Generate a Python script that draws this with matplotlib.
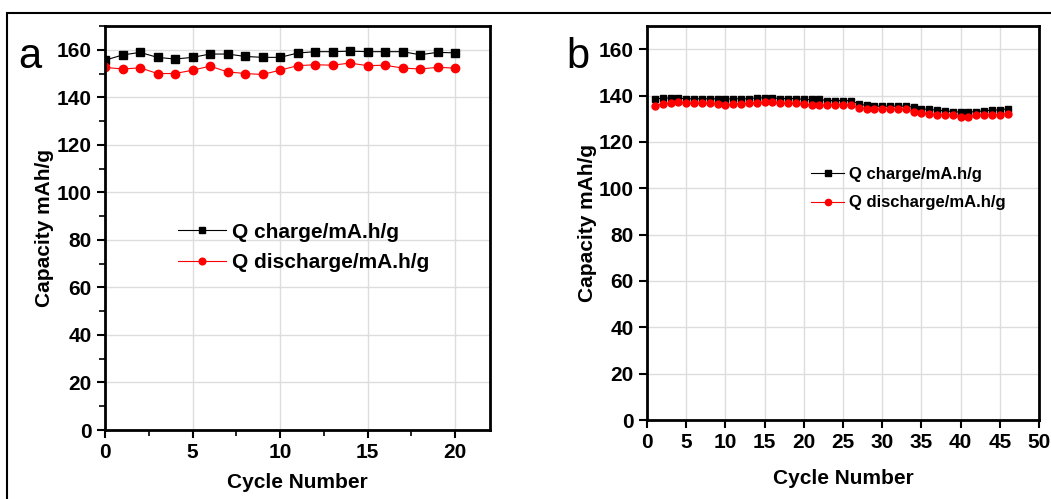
import numpy as np
import matplotlib.pyplot as plt
from matplotlib.patches import Rectangle
from matplotlib.ticker import MultipleLocator

plt.rcParams['font.family'] = ['Liberation Sans', 'DejaVu Sans']

# panel a data
cyc_a = list(range(0, 21))
charge_a = [155.6, 157.8, 158.9, 156.8, 156.1, 156.8, 158.2, 158.2, 157.2, 156.8, 156.8,
            158.6, 159.2, 159.2, 159.4, 159.2, 159.2, 159.2, 157.9, 158.9, 158.7]
disch_a = [152.6, 151.9, 152.4, 150.0, 150.0, 151.4, 153.1, 150.7, 150.0, 149.6, 151.4,
           153.3, 153.7, 153.5, 154.4, 153.3, 153.5, 152.3, 151.9, 152.6, 152.3]

# panel b data
cyc_b = list(range(1, 47))
charge_b = [138.4, 138.9, 138.9, 138.9, 138.6, 138.6, 138.6, 138.6, 138.6, 138.4,
            138.6, 138.6, 138.6, 139.0, 139.0, 139.0, 138.7, 138.7, 138.7, 138.3,
            138.3, 138.3, 137.8, 137.8, 137.8, 137.8, 136.4, 135.7, 135.4, 135.4,
            135.4, 135.4, 135.4, 135.0, 134.3, 134.0, 133.7, 133.4, 133.1, 132.8,
            132.8, 133.1, 133.4, 133.7, 133.8, 134.3]
disch_b = [135.4, 136.4, 136.8, 137.0, 136.8, 136.6, 136.6, 136.6, 136.4, 136.1,
           136.3, 136.4, 136.6, 136.8, 137.1, 137.0, 136.7, 136.6, 136.6, 136.3,
           136.0, 135.8, 135.7, 136.0, 136.0, 135.7, 134.8, 134.3, 134.0, 134.0,
           134.0, 134.0, 134.0, 133.1, 132.5, 132.1, 131.7, 131.4, 131.4, 130.8,
           130.8, 131.4, 131.7, 131.7, 131.8, 132.2]

fig = plt.figure(figsize=(10.51, 4.99), dpi=100)
fig.patches.append(Rectangle((7 / 1051, -0.05), 1.1, 1 - 13 / 499 + 0.05, transform=fig.transFigure,
                             fill=False, edgecolor='black', linewidth=1.5))

ax1 = fig.add_axes([105 / 1051, 1 - 430 / 499, 385 / 1051, 404 / 499])
ax2 = fig.add_axes([647 / 1051, 1 - 420 / 499, 392 / 1051, 394 / 499])

ax1.plot(cyc_a, charge_a, '-s', color='black', lw=0.8, ms=6, label='Q charge/mA.h/g')
ax1.plot(cyc_a, disch_a, '-o', color='red', lw=0.8, ms=6, label='Q discharge/mA.h/g')
ax2.plot(cyc_b, charge_b, '-s', color='black', lw=0.8, ms=5, label='Q charge/mA.h/g')
ax2.plot(cyc_b, disch_b, '-o', color='red', lw=0.8, ms=5, label='Q discharge/mA.h/g')

ax1.set_xlim(0, 22)
ax1.set_ylim(0, 170)
ax1.xaxis.set_major_locator(MultipleLocator(5))
ax1.xaxis.set_minor_locator(MultipleLocator(2.5))
ax1.yaxis.set_major_locator(MultipleLocator(20))
ax1.yaxis.set_minor_locator(MultipleLocator(10))

ax2.set_xlim(0, 50)
ax2.set_ylim(0, 170)
ax2.xaxis.set_major_locator(MultipleLocator(5))
ax2.yaxis.set_major_locator(MultipleLocator(20))

for ax in (ax1, ax2):
    ax.grid(True, color='#dddddd', lw=1)
    ax.set_axisbelow(True)
    for s in ax.spines.values():
        s.set_linewidth(2)
    ax.tick_params(which='major', direction='out', length=6, width=1.5, labelsize=15)
    ax.tick_params(which='minor', direction='out', length=4, width=1.2)
    for lab in ax.get_xticklabels() + ax.get_yticklabels():
        lab.set_fontweight('bold')
    ax.set_xlabel('Cycle Number', fontsize=15, fontweight='bold')
    ax.set_ylabel('Capacity mAh/g', fontsize=15, fontweight='bold')

ax1.xaxis.labelpad = 8
ax2.xaxis.labelpad = 12
ax1.yaxis.labelpad = 2
ax2.yaxis.labelpad = 1

ax1.legend(loc='upper left', bbox_to_anchor=(0.14, 0.56), frameon=False, handlelength=2.3,
           prop={'weight': 'bold', 'size': 15}, markerscale=0.8,
           labelspacing=0.55, handletextpad=0.3)
ax2.legend(loc='upper left', bbox_to_anchor=(0.38, 0.68), frameon=False, handlelength=2.0,
           prop={'weight': 'bold', 'size': 12}, markerscale=0.9,
           labelspacing=0.8, handletextpad=0.3)

fig.text(18 / 1051, 1 - 68 / 499, 'a', fontsize=30)
fig.text(566 / 1051, 1 - 68 / 499, 'b', fontsize=30)

fig.savefig('out.png', dpi=100)
